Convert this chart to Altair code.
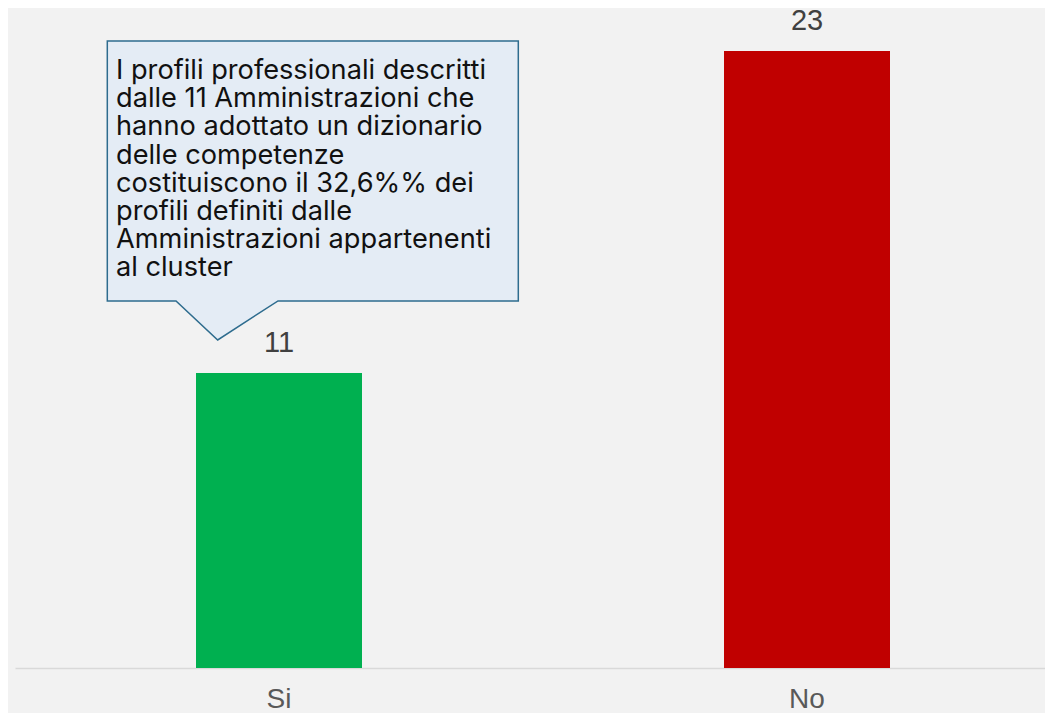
import altair as alt
import pandas as pd

# ---- data ----
categories = ["Si", "No"]
values = [11, 23]
bar_colors = ["#00b050", "#c00000"]

callout_lines = [
    "I profili professionali descritti",
    "dalle 11 Amministrazioni che",
    "hanno adottato un dizionario",
    "delle competenze",
    "costituiscono il 32,6%% dei",
    "profili definiti dalle",
    "Amministrazioni appartenenti",
    "al cluster",
]
callout_anchor = "Si"
callout_center_value = 17.8   # vertical centre of the callout shape (data units)
callout_text_value = 21.95    # baseline of first text line (data units)

# ---- tables ----
bars_df = pd.DataFrame({"cat": categories, "val": values})
shape_df = pd.DataFrame({"cat": [callout_anchor], "val": [callout_center_value]})
text_df = pd.DataFrame({"cat": [callout_anchor], "val": [callout_text_value],
                        "txt": [callout_lines]})

x_scale = alt.Scale(domain=categories, paddingInner=0.68561,
                    paddingOuter=0.31818, align=0.5387)
y_scale = alt.Scale(domain=[0, 24.6], nice=False, zero=True)

x_enc = alt.X("cat:N", sort=categories, scale=x_scale,
              axis=alt.Axis(title=None, labelAngle=0, ticks=False, grid=False,
                            domainColor="#d9d9d9", domainWidth=1.5,
                            labelFont="Liberation Sans", labelFontSize=28,
                            labelColor="#595959", labelPadding=17))
y_enc = alt.Y("val:Q", scale=y_scale, axis=None)

bars = alt.Chart(bars_df).mark_bar().encode(
    x=x_enc, y=y_enc,
    color=alt.Color("cat:N", scale=alt.Scale(domain=categories, range=bar_colors),
                    legend=None),
)

labels = alt.Chart(bars_df).mark_text(
    font="Liberation Sans", fontSize=29, color="#404040",
    baseline="alphabetic", dy=-21,
).encode(x=x_enc, y=y_enc, text=alt.Text("val:Q"))

callout_path = ("M -1 -0.7275 L 1 -0.7275 L 1 0.5377 L -0.1693 0.5377 "
                "L -0.4628 0.7275 L -0.6657 0.5377 L -1 0.5377 Z")

callout_shape = alt.Chart(shape_df).mark_point(
    shape=callout_path, size=411 * 411, filled=True,
    fill="#e4ecf5", stroke="#2e6c8e", strokeWidth=1.5,
    opacity=1, fillOpacity=1, strokeOpacity=1, xOffset=33.8,
).encode(x=x_enc, y=y_enc)

callout_text = alt.Chart(text_df).mark_text(
    font="Inter", fontSize=27.2, color="#111111", align="left",
    baseline="alphabetic", lineHeight=28.2, xOffset=-163,
).encode(x=x_enc, y=y_enc, text="txt")

chart = alt.layer(bars, labels, callout_shape, callout_text).properties(
    width=1030, height=660,
    autosize=alt.AutoSizeParams(type="none"),
    padding={"left": 7, "top": 0, "right": 0, "bottom": 45},
    background="#f2f2f2",
).configure_view(stroke=None)

chart.save("out.html", embed_options={"renderer": "svg", "actions": False})
